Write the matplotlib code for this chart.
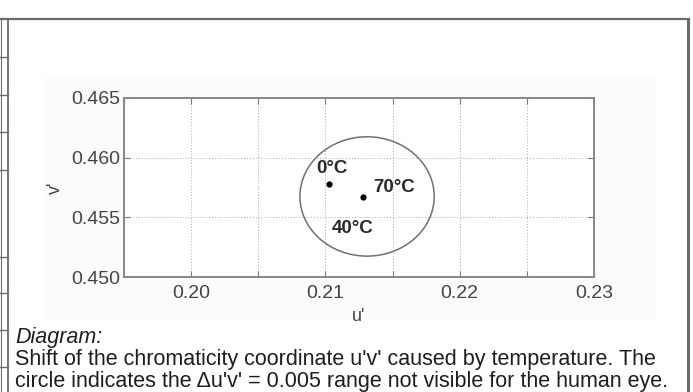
import numpy as np
import matplotlib
matplotlib.use("Agg")
import matplotlib.pyplot as plt
from matplotlib.patches import Circle, Rectangle
from matplotlib.lines import Line2D

plt.rcParams['font.family'] = ['Liberation Sans', 'DejaVu Sans']

# chromaticity points (u', v')
temps = ["0°C", "70°C"]
u_pts = [0.2103, 0.2128]
v_pts = [0.4578, 0.4567]

# where the temperature labels sit
label_text = ["0°C", "70°C", "40°C"]
label_u = [0.2105, 0.2151, 0.2120]
label_v = [0.4591, 0.4575, 0.4541]

# just-noticeable circle, delta u'v' = 0.005
circle_center = (0.2131, 0.45675)
circle_radius = 0.005

xticks = [0.195, 0.20, 0.205, 0.21, 0.215, 0.22, 0.225, 0.23]
xticklabels = ["", "0.20", "", "0.21", "", "0.22", "", "0.23"]
yticks = [0.450, 0.455, 0.460, 0.465]
yticklabels = ["0.450", "0.455", "0.460", "0.465"]

W, H = 693, 392
fig = plt.figure(figsize=(W / 100, H / 100), dpi=100)
fig.patch.set_facecolor("white")

def px(x, y):
    return x / W, 1 - y / H

# faint matlab figure background
fig.add_artist(Rectangle(px(43, 320), 612 / W, 242 / H, transform=fig.transFigure,
                         facecolor="#fbfbfb", edgecolor="none", zorder=0))

# page frame / table remnants
fc = "#6e6a6a"
def fline(x0, y0, x1, y1, lw=1.3):
    a, b = px(x0, y0)
    c, d = px(x1, y1)
    fig.add_artist(Line2D([a, c], [b, d], transform=fig.transFigure, color=fc, lw=lw))

fline(0, 19, 689, 19, 1.6)
fline(8, 19, 8, 392, 1.3)
fline(688, 19, 688, 392, 2.2)
fline(1, 19, 1, 392, 0.8)
for yy in [57, 95, 132, 170, 257, 293, 330, 367]:
    fline(0, yy, 8, yy, 1.0)

ax = fig.add_axes([124 / W, 1 - 277 / H, 470 / W, 179 / H])
ax.set_facecolor("white")
ax.set_xlim(0.195, 0.23)
ax.set_ylim(0.450, 0.465)

ax.set_xticks(xticks)
ax.set_xticklabels(xticklabels)
ax.set_yticks(yticks)
ax.set_yticklabels(yticklabels)
ax.tick_params(direction="in", length=4, width=0.8, color="#777777",
               labelsize=14, labelcolor="#444444", top=True, right=True, pad=3)
ax.tick_params(axis="x", pad=6)
ax.grid(True, linestyle=(0, (1, 2)), color="#aaaaaa", lw=0.7)
for s in ax.spines.values():
    s.set_color("#888888")
    s.set_linewidth(1.4)

ax.add_patch(Circle(circle_center, circle_radius, fill=False, edgecolor="#707070", lw=1.1))
ax.scatter(u_pts, v_pts, s=12, color="black", zorder=3)
for t, x, y in zip(label_text, label_u, label_v):
    ax.text(x, y, t, fontsize=13.5, fontweight="bold", color="#2a2a2a", ha="center", va="center")

ax.set_xlabel("u'", fontsize=13, color="#444444", labelpad=4)
ax.set_ylabel("v'", fontsize=13, color="#444444", labelpad=5)

cap = dict(fontsize=15.5, color="#1e1e1e", va="center")
fig.text(15 / W, 1 - 337 / H, "Diagram:", style="italic", **cap)
fig.text(15 / W, 1 - 359 / H, "Shift of the chromaticity coordinate u'v' caused by temperature. The", **cap)
fig.text(15 / W, 1 - 381 / H, "circle indicates the \u0394u'v' = 0.005 range not visible for the human eye.", **cap)

fig.savefig("out.png", dpi=100)
